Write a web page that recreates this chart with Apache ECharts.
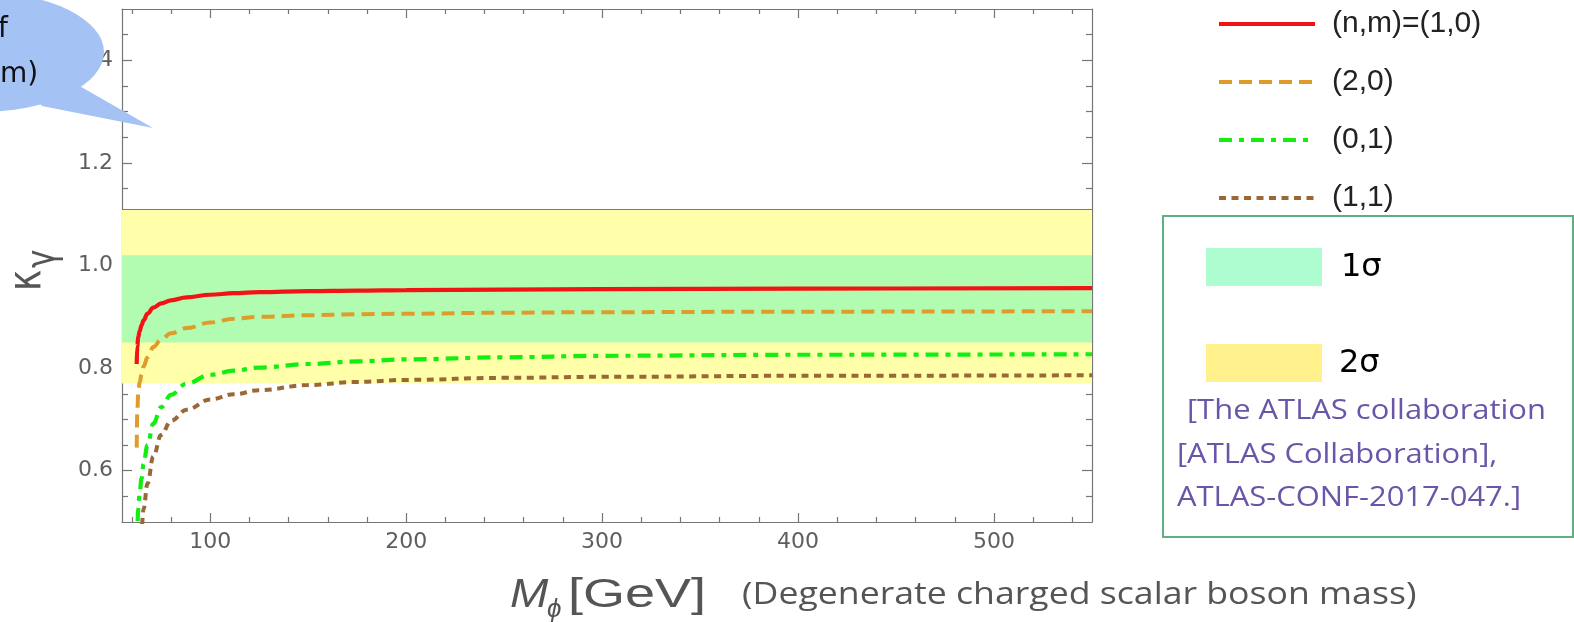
<!DOCTYPE html>
<html><head><meta charset="utf-8">
<script src="https://cdn.jsdelivr.net/npm/echarts@6/dist/echarts.min.js"></script>
<style>html,body{margin:0;padding:0;background:#fff}#c{width:1574px;height:622px}</style>
</head><body><div id="c"></div>
<script>
// ---- data ----
const massGeV = [62.5, 62.8, 63.3, 64, 65, 66, 68, 71, 75, 80, 88, 100, 112, 125, 150, 175, 200, 250, 300, 400, 550];
const kappa10 = [0.808, 0.843, 0.860, 0.872, 0.884, 0.893, 0.906, 0.918, 0.926, 0.932, 0.938, 0.943, 0.946, 0.948, 0.950, 0.951, 0.952, 0.953, 0.954, 0.955, 0.956];
const kappa20 = [0.645, 0.715, 0.752, 0.772, 0.788, 0.803, 0.821, 0.841, 0.856, 0.868, 0.878, 0.889, 0.896, 0.900, 0.903, 0.905, 0.906, 0.908, 0.909, 0.910, 0.911];
const kappa01 = [0.44, 0.49, 0.525, 0.558, 0.585, 0.613, 0.650, 0.692, 0.724, 0.748, 0.770, 0.787, 0.795, 0.801, 0.808, 0.813, 0.817, 0.821, 0.824, 0.826, 0.827];
const kappa11 = [0.30, 0.33, 0.37, 0.42, 0.49, 0.525, 0.575, 0.628, 0.670, 0.697, 0.719, 0.739, 0.749, 0.757, 0.767, 0.773, 0.777, 0.781, 0.783, 0.785, 0.786];
const seriesNames = ['(n,m)=(1,0)', '(2,0)', '(0,1)', '(1,1)'];
const band1Sigma = [0.85, 1.02];
const band2Sigma = [0.77, 1.11];
const xTickLabels = [100, 200, 300, 400, 500];
const yTickLabels = [0.6, 0.8, 1.0, 1.2, 1.4];
const xMinorTicks = [60, 80, 120, 140, 160, 180, 220, 240, 260, 280, 320, 340, 360, 380, 420, 440, 460, 480, 520, 540];
const yMinorTicks = [0.55, 0.65, 0.7, 0.75, 0.85, 0.9, 0.95, 1.05, 1.1, 1.15, 1.25, 1.3, 1.35, 1.45];
const xRange = [55, 550];
const yRange = [0.5, 1.5];

const pairs = ys => massGeV.map((x, i) => [x, ys[i]]);
const gray = '#767676';
const labelColor = '#5e5e5e';
const tickLabelStyle = { color: labelColor, fontSize: 22, fontFamily: 'DejaVu Sans', fontWeight: 'normal' };

function xAx(gridIndex, position, major) {
  return {
    type: 'value', gridIndex, position, min: xRange[0], max: xRange[1],
    axisLine: { show: major, onZero: false, lineStyle: { color: gray, width: 1.2 } },
    axisTick: { show: true, inside: true, length: major ? 9 : 5, customValues: major ? xTickLabels : xMinorTicks, lineStyle: { color: gray, width: 1.2 } },
    axisLabel: Object.assign({ show: major && position === 'bottom', customValues: xTickLabels, margin: 9 }, tickLabelStyle),
    splitLine: { show: false }
  };
}
function yAx(gridIndex, position, major) {
  return {
    type: 'value', gridIndex, position, min: yRange[0], max: yRange[1],
    axisLine: { show: major, onZero: false, lineStyle: { color: gray, width: 1.2 } },
    axisTick: { show: true, inside: true, length: major ? 10 : 6, customValues: major ? yTickLabels : yMinorTicks, lineStyle: { color: gray, width: 1.2 } },
    axisLabel: Object.assign({ show: major && position === 'left', customValues: yTickLabels, margin: 9, formatter: v => v.toFixed(1) }, tickLabelStyle),
    splitLine: { show: false }
  };
}

const gridBox = { left: 122, right: 482, top: 9, bottom: 100 };
const chart = echarts.init(document.getElementById('c'), null, { renderer: 'canvas' });

const lineDefs = [
  { name: seriesNames[3], data: kappa11, color: '#9a6836', type: [7, 5.5], width: 4 },
  { name: seriesNames[2], data: kappa01, color: '#12ee12', type: [13, 7, 5, 7], width: 4.2 },
  { name: seriesNames[1], data: kappa20, color: '#e09c2a', type: [13, 7], width: 4 },
  { name: seriesNames[0], data: kappa10, color: '#f21414', type: 'solid', width: 4.2 }
];

const sans = '"Open Sans"';
const option = {
  animation: false,
  backgroundColor: '#ffffff',
  grid: [Object.assign({}, gridBox), Object.assign({}, gridBox)],
  xAxis: [xAx(0, 'bottom', true), xAx(0, 'top', true), xAx(1, 'bottom', false), xAx(1, 'top', false)],
  yAxis: [yAx(0, 'left', true), yAx(0, 'right', true), yAx(1, 'left', false), yAx(1, 'right', false)],
  legend: {
    data: seriesNames,
    orient: 'vertical', left: 1212, top: 4,
    itemWidth: 96, itemHeight: 30, itemGap: 28,
    selectedMode: false,
    itemStyle: { opacity: 0 },
    lineStyle: { width: 4 },
    textStyle: { fontSize: 30, lineHeight: 30, fontFamily: 'Liberation Sans', color: '#222', padding: [0, 0, 0, 12] }
  },
  series: [
    {
      name: 'bands', type: 'line', xAxisIndex: 0, yAxisIndex: 0, data: [], silent: true, z: 1,
      markArea: {
        silent: true,
        data: [
          [{ yAxis: band2Sigma[0], itemStyle: { color: '#ffffa9' } }, { yAxis: band2Sigma[1] }],
          [{ yAxis: band1Sigma[0], itemStyle: { color: '#b2fcb2' } }, { yAxis: band1Sigma[1] }]
        ]
      },
      markLine: {
        silent: true, symbol: 'none', label: { show: false },
        lineStyle: { color: '#5b7fbc', width: 1.2, type: 'solid' },
        data: [{ yAxis: band2Sigma[1] }]
      }
    }
  ].concat(lineDefs.map(d => ({
    name: d.name, type: 'line', xAxisIndex: 0, yAxisIndex: 0,
    data: pairs(d.data), symbol: 'none', showSymbol: false,
    smooth: 0.4, smoothMonotone: 'x', z: 5,
    itemStyle: { color: d.color },
    lineStyle: { color: d.color, width: d.width, type: d.type, cap: 'butt' }
  }))),
  graphic: [
    // y axis title kappa_gamma (rotated)
    {
      type: 'group', x: 28, y: 291, rotation: Math.PI / 2, scaleY: 1.3, z: 50,
      children: [
        { type: 'text', x: 0, y: 0, style: { text: 'κ', font: '36px "DejaVu Sans"', fill: '#555', align: 'left', verticalAlign: 'middle' } },
        { type: 'text', x: 23, y: 12, style: { text: 'γ', font: '31px "DejaVu Sans"', fill: '#555', align: 'left', verticalAlign: 'middle' } }
      ]
    },
    // x axis title
    { type: 'text', x: 510, y: 596, scaleX: 1.15, z: 50, style: { text: 'M', font: 'italic 40px "Liberation Sans"', fill: '#555', align: 'left', verticalAlign: 'middle' } },
    { type: 'text', x: 547, y: 610, z: 50, style: { text: 'ϕ', font: 'italic 26px "Liberation Sans"', fill: '#555', align: 'left', verticalAlign: 'middle' } },
    { type: 'text', x: 568, y: 596, scaleX: 1.35, z: 50, style: { text: '[GeV]', font: '40px "Liberation Sans"', fill: '#555', align: 'left', verticalAlign: 'middle' } },
    { type: 'text', x: 742, y: 595, scaleX: 1.15, z: 50, style: { text: '(Degenerate charged scalar boson mass)', font: '31px ' + sans, fill: '#555', align: 'left', verticalAlign: 'middle' } },
    // sigma box
    { type: 'rect', z: 40, shape: { x: 1163, y: 216, width: 410, height: 321 }, style: { fill: '#ffffff', stroke: '#5faf82', lineWidth: 2 } },
    { type: 'rect', z: 41, shape: { x: 1206, y: 248, width: 116, height: 38 }, style: { fill: '#adfdd0' } },
    { type: 'rect', z: 41, shape: { x: 1206, y: 344, width: 116, height: 38 }, style: { fill: '#fff28c' } },
    { type: 'text', z: 41, x: 1341, y: 268, style: { text: '1σ', font: '32px "DejaVu Sans"', fill: '#000', align: 'left', verticalAlign: 'middle' } },
    { type: 'text', z: 41, x: 1339, y: 364, style: { text: '2σ', font: '32px "DejaVu Sans"', fill: '#000', align: 'left', verticalAlign: 'middle' } },
    { type: 'text', z: 41, x: 1187, y: 411, scaleX: 1.105, style: { text: '[The ATLAS collaboration', font: '28px ' + sans, fill: '#6a55a8', align: 'left', verticalAlign: 'middle' } },
    { type: 'text', z: 41, x: 1177, y: 455, scaleX: 1.105, style: { text: '[ATLAS Collaboration],', font: '28px ' + sans, fill: '#6a55a8', align: 'left', verticalAlign: 'middle' } },
    { type: 'text', z: 41, x: 1177, y: 498, scaleX: 1.105, style: { text: 'ATLAS-CONF-2017-047.]', font: '28px ' + sans, fill: '#6a55a8', align: 'left', verticalAlign: 'middle' } },
    // speech bubble (partially off-canvas)
    { type: 'circle', z: 100, x: -20, y: 52, scaleX: 124 / 60, shape: { cx: 0, cy: 0, r: 60 }, style: { fill: '#a4c2f4' } },
    { type: 'polygon', z: 100, shape: { points: [[62, 76], [153, 128], [42, 106], [30, 92]] }, style: { fill: '#a4c2f4' } },
    { type: 'text', z: 101, x: -2, y: 30, style: { text: 'f', font: '28px "DejaVu Sans"', fill: '#111', align: 'left', verticalAlign: 'middle' } },
    { type: 'text', z: 101, x: 0, y: 75, style: { text: 'm)', font: '28px "DejaVu Sans"', fill: '#111', align: 'left', verticalAlign: 'middle' } }
  ]
};
chart.setOption(option);
</script>
</body></html>
